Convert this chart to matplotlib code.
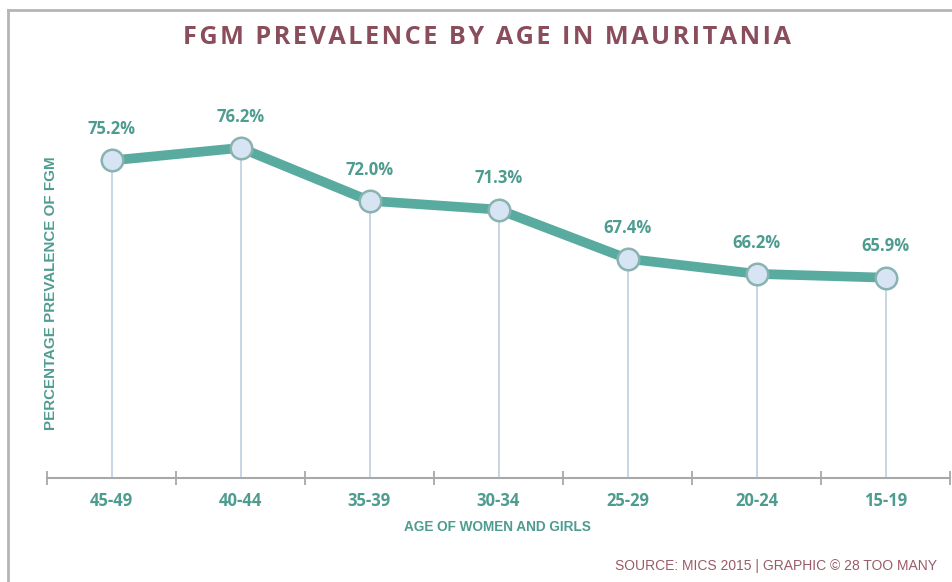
import matplotlib.pyplot as plt
from matplotlib.lines import Line2D
import numpy as np

age_groups = ['45-49', '40-44', '35-39', '30-34', '25-29', '20-24', '15-19']
prevalence = [75.2, 76.2, 72.0, 71.3, 67.4, 66.2, 65.9]

TEAL = '#5aab9f'
TEXT_TEAL = '#4e9c90'
MAUVE = '#8a4d5b'
DROP = '#c3d2e4'
AXIS_GRAY = '#a8a8a8'

fig = plt.figure(figsize=(9.52, 5.82), dpi=100)
fig.patch.set_facecolor('white')

# partial frame around the graphic
fig.add_artist(Line2D([8 / 952, 1], [1 - 10 / 582, 1 - 10 / 582], transform=fig.transFigure,
                      color='#b5b5b5', lw=2))
fig.add_artist(Line2D([8 / 952, 8 / 952], [0, 1 - 10 / 582], transform=fig.transFigure,
                      color='#b5b5b5', lw=2))

ax = fig.add_axes([47 / 952, 1 - 478 / 582, 903 / 952, 378 / 582])
x = np.arange(len(age_groups))

ax.vlines(x, 50, prevalence, color=DROP, lw=1.3, zorder=1)
ax.plot(x, prevalence, color=TEAL, lw=7, solid_capstyle='round', zorder=2)
ax.plot(x, prevalence, 'o', ms=15.5, mfc='#d6e4f3', mec='#88b3b0', mew=1.8, zorder=3)

for xi, v in zip(x, prevalence):
    ax.annotate(f'{v:.1f}%', (xi, v), xytext=(0, 16), textcoords='offset points',
                ha='center', va='bottom', color=TEXT_TEAL, fontsize=12,
                fontweight='bold', family='Open Sans')

ax.set_xlim(-0.5, len(age_groups) - 0.5)
ax.set_ylim(50, 80)

for s in ['top', 'right', 'left']:
    ax.spines[s].set_visible(False)
ax.spines['bottom'].set_color(AXIS_GRAY)
ax.spines['bottom'].set_linewidth(1.5)

ax.set_yticks([])
ax.set_xticks(np.arange(-0.5, len(age_groups), 1.0))
ax.set_xticklabels([])
ax.tick_params(axis='x', direction='inout', length=10, width=1.3, color=AXIS_GRAY)
ax.set_xticks(x, minor=True)
ax.set_xticklabels(age_groups, minor=True, color=TEXT_TEAL, fontsize=12,
                   fontweight='bold', family='Open Sans')
ax.tick_params(axis='x', which='minor', length=0, pad=10)

fig.text(497 / 952, 1 - 527 / 582, 'AGE OF WOMEN AND GIRLS', ha='center', va='center',
         color=TEXT_TEAL, fontsize=9.8, fontweight='bold', family='Liberation Sans')
fig.text(51 / 952, 1 - 293 / 582, 'PERCENTAGE PREVALENCE OF FGM', ha='center', va='center',
         rotation=90, color=TEXT_TEAL, fontsize=10.9, fontweight='bold', family='Liberation Sans')

title = '\u200a'.join('FGM PREVALENCE BY AGE IN MAURITANIA')
fig.text(487 / 952, 1 - 38 / 582, title,
         ha='center', va='center', color=MAUVE, fontsize=18.2, fontweight='bold',
         family='Open Sans')

fig.text(937 / 952, 1 - 566 / 582, 'SOURCE: MICS 2015 | GRAPHIC \u00a9 28 TOO MANY',
         ha='right', va='center', color='#9a5c69', fontsize=10, family='Liberation Sans')

fig.savefig('out.png', dpi=100)
